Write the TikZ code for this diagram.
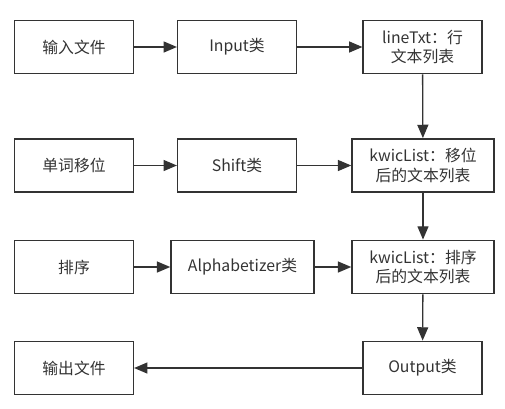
\documentclass[tikz,border=0pt]{standalone}
\usepackage{fontspec}
\setmainfont{Noto Sans CJK SC}
\usepackage{xcolor}
\usepackage{tikz}
\usetikzlibrary{arrows.meta,positioning}
\definecolor{linegray}{HTML}{333333}

\begin{document}
\begin{tikzpicture}[x=0.03cm, y=-0.03cm,
        box/.style={rectangle, draw=linegray, line width=0.045cm, text=linegray, minimum width=3.56cm, minimum height=1.6cm, align=center, font=\fontsize{13.5}{17}\selectfont, inner sep=2pt},
        flow/.style={-{Triangle[length=0.4cm, width=0.33cm]}, line width=0.04cm, draw=linegray}]
        \useasboundingbox (0,0) rectangle (505,408);

        % Row 1: input
        \node[box] (infile) at (74,47) {输入文件};
        \node[box] (input) at (237,47) {Input类};
        \node[box] (linetxt) at (422.5,47) {lineTxt：行\\文本列表};

        % Row 2: shift
        \node[box] (shiftstep) at (74,165.5) {单词移位};
        \node[box] (shift) at (237,165.5) {Shift类};
        \node[box, minimum width=4.26cm] (shifted) at (423,165.5) {kwicList：移位\\后的文本列表};

        % Row 3: sort
        \node[box] (sortstep) at (74,267) {排序};
        \node[box, minimum width=4.29cm] (alpha) at (242.5,267) {Alphabetizer类};
        \node[box, minimum width=4.26cm] (sorted) at (423,267) {kwicList：排序\\后的文本列表};

        % Row 4: output
        \node[box] (outfile) at (74,368) {输出文件};
        \node[box] (output) at (422.5,368) {Output类};

        % Horizontal arrows
        \draw[flow] (infile) -- (input);
        \draw[flow] (input) -- (linetxt);
        \draw[flow] (shiftstep) -- (shift);
        \draw[flow] (shift) -- (shifted);
        \draw[flow] (sortstep) -- (alpha);
        \draw[flow] (alpha) -- (sorted);
        \draw[flow] (output) -- (outfile);

        % Vertical arrows
        \draw[flow] (linetxt) -- (shifted);
        \draw[flow] (shifted) -- (sorted);
        \draw[flow] (sorted) -- (output);
    \end{tikzpicture}
\end{document}
